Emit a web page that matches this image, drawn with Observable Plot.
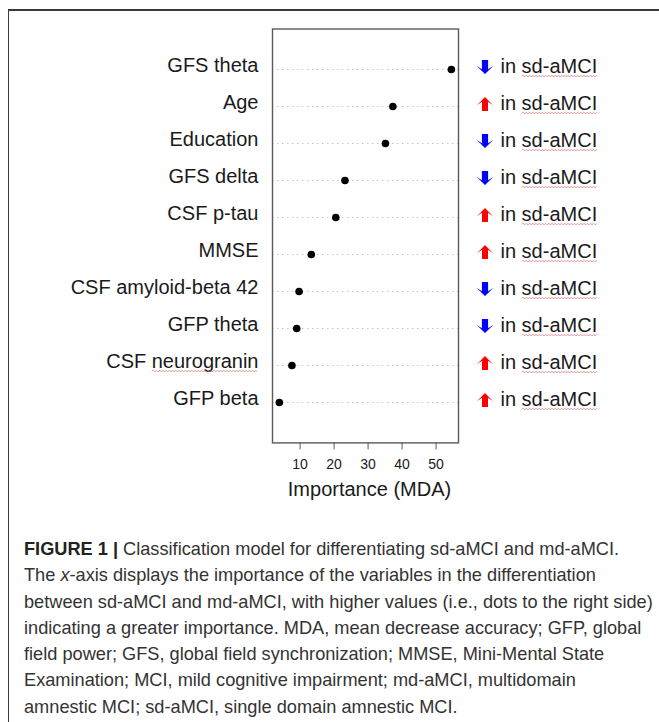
<!DOCTYPE html>
<html>
<head>
<meta charset="utf-8">
<script src="https://cdn.jsdelivr.net/npm/d3@7"></script>
<script src="https://cdn.jsdelivr.net/npm/@observablehq/plot@0.6"></script>
<style>
  html, body { margin: 0; padding: 0; background: #fff; }
  #page { position: relative; width: 659px; height: 722px; overflow: hidden; font-family: "Liberation Sans", Arial, sans-serif; }
  #border { position: absolute; left: 8px; top: 9px; right: -2px; bottom: -2px; border-top: 2px solid #3a3a3a; border-left: 1.5px solid #3a3a3a; z-index: 2; pointer-events: none; }
  #chart { position: absolute; left: 0; top: 0; z-index: 1; }
  #caption { position: absolute; left: 24px; top: 536px; font-size: 18.2px; line-height: 26.3px; color: #333; white-space: nowrap; z-index: 1; }
  #caption b { color: #222; }
</style>
</head>
<body>
<div id="page">
  <div id="border"></div>
  <div id="chart"></div>
  <div id="caption"></div>
</div>
<script>
// ---- data ----
const variables = ["GFS theta", "Age", "Education", "GFS delta", "CSF p-tau", "MMSE", "CSF amyloid-beta 42", "GFP theta", "CSF neurogranin", "GFP beta"];
const importance = [54.5, 37.3, 35.1, 23.2, 20.5, 13.3, 9.7, 9.0, 7.6, 3.9];
const direction = ["down", "up", "down", "down", "up", "up", "down", "down", "up", "up"];
const xTicks = [10, 20, 30, 40, 50];
const xLabel = "Importance (MDA)";
const annotationText = "in sd-aMCI";
const captionLines = [
  "<b>FIGURE 1 |</b> Classification model for differentiating sd-aMCI and md-aMCI.",
  "The <i>x</i>-axis displays the importance of the variables in the differentiation",
  "between sd-aMCI and md-aMCI, with higher values (i.e., dots to the right side)",
  "indicating a greater importance. MDA, mean decrease accuracy; GFP, global",
  "field power; GFS, global field synchronization; MMSE, Mini-Mental State",
  "Examination; MCI, mild cognitive impairment; md-aMCI, multidomain",
  "amnestic MCI; sd-aMCI, single domain amnestic MCI."
];

const rows = variables.map((v, i) => ({name: v, value: importance[i], dir: direction[i]}));

// block arrow symbols (fixed geometry, centred on the point)
const upArrow = {
  draw(ctx) {
    ctx.moveTo(0, -7);
    ctx.lineTo(8, 1.2);
    ctx.lineTo(3, -2.2);
    ctx.lineTo(3, 7);
    ctx.lineTo(-3, 7);
    ctx.lineTo(-3, -2.2);
    ctx.lineTo(-8, 1.2);
    ctx.closePath();
  }
};
const downArrow = {
  draw(ctx) {
    ctx.moveTo(0, 7);
    ctx.lineTo(8.5, -1.2);
    ctx.lineTo(3.1, 2.2);
    ctx.lineTo(3.1, -7);
    ctx.lineTo(-3.1, -7);
    ctx.lineTo(-3.1, 2.2);
    ctx.lineTo(-8.5, -1.2);
    ctx.closePath();
  }
};

const textColor = "#1a1a1a";

const plot = Plot.plot({
  width: 659,
  height: 520,
  marginLeft: 272,
  marginRight: 201,
  marginTop: 28.5,
  marginBottom: 77.6,
  style: {background: "none", fontFamily: "'Liberation Sans', Arial, sans-serif", fontSize: "14px", color: textColor},
  x: {domain: [1.88, 56.6], ticks: xTicks, axis: null},
  y: {type: "point", domain: variables, padding: 1, axis: null},
  color: {domain: ["up", "down"], range: ["#ff0000", "#0000ff"]},
  symbol: {domain: ["up", "down"], range: [upArrow, downArrow]},
  marks: [
    Plot.ruleY(rows, {y: "name", stroke: "#c4c4c4", strokeWidth: 1, strokeDasharray: "1.5,3.5"}),
    Plot.frame({stroke: "#5a5a5a", strokeWidth: 1.4}),
    Plot.axisX({ticks: xTicks, tickSize: 7, tickPadding: 9, label: null, stroke: "#5a5a5a", fill: textColor}),
    Plot.axisY({tickSize: 0, tickPadding: 14, fontSize: 20, label: null, dy: -4, fill: textColor}),
    Plot.dot(rows, {x: "value", y: "name", r: 3.8, fill: "black", stroke: "none"}),
    Plot.dot(rows, {y: "name", frameAnchor: "right", dx: 26.5, dy: -2.5, symbol: "dir", fill: "dir", stroke: "none", r: 5}),
    Plot.text(rows, {y: "name", frameAnchor: "right", dx: 42, dy: -3, text: d => annotationText, textAnchor: "start", fontSize: 20, fill: textColor}),
    Plot.text([xLabel], {frameAnchor: "bottom", dy: 53, dx: 4, text: d => d, fontSize: 20, fill: textColor})
  ]
});

document.getElementById("chart").appendChild(plot);

// spell-check style wavy underline as in the source figure
function underlineWord(word) {
  const ns = "http://www.w3.org/2000/svg";
  plot.querySelectorAll("text").forEach(el => {
    const full = el.textContent;
    const idx = full.indexOf(word);
    if (idx < 0 || full === word) return;
    const s = el.getStartPositionOfChar(idx);
    const e = el.getEndPositionOfChar(idx + word.length - 1);
    const y0 = s.y + 3.2;
    let d = `M${s.x},${y0}`;
    let up = true;
    for (let x = s.x + 1.6; x <= e.x; x += 1.6) {
      d += `L${x.toFixed(2)},${(y0 + (up ? -0.9 : 0.9)).toFixed(2)}`;
      up = !up;
    }
    const p = document.createElementNS(ns, "path");
    p.setAttribute("d", d);
    p.setAttribute("fill", "none");
    p.setAttribute("stroke", "#e07070");
    p.setAttribute("stroke-width", "0.8");
    p.setAttribute("stroke-opacity", "0.85");
    const tr = el.getAttribute("transform");
    if (tr) p.setAttribute("transform", tr);
    el.parentNode.appendChild(p);
  });
}
underlineWord("sd-aMCI");
underlineWord("neurogranin");

document.getElementById("caption").innerHTML = captionLines.join("<br>");
</script>
</body>
</html>
